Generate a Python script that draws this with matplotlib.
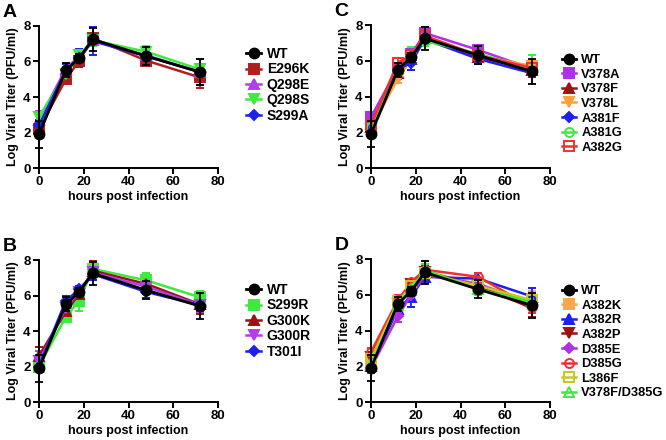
import matplotlib
matplotlib.use("Agg")
import matplotlib.pyplot as plt
from matplotlib.lines import Line2D

plt.rcParams['font.family'] = ['Liberation Sans', 'DejaVu Sans']
plt.rcParams['font.weight'] = 'bold'

hours = [0, 12, 18, 24, 48, 72]

# wild type, shared by all four panels
wt = [1.9, 5.5, 6.2, 7.25, 6.3, 5.4]
wt_err = [0.75, 0.4, 0.25, 0.65, 0.5, 0.72]

# panel A
a_names = ["E296K", "Q298E", "Q298S", "S299A"]
a_vals = [[2.2, 5.0, 6.05, 7.3, 6.05, 5.1],
          [2.7, 5.6, 6.3, 7.2, 6.35, 5.4],
          [2.9, 5.3, 6.35, 7.2, 6.55, 5.55],
          [2.4, 5.5, 6.2, 7.15, 6.3, 5.4]]
a_errs = [[0.2, 0.25, 0.3, 0.3, 0.2, 0.6],
          [0.5, 0.3, 0.3, 0.3, 0.3, 0.3],
          [0.2, 0.3, 0.25, 0.3, 0.35, 0.3],
          [0.3, 0.35, 0.5, 0.8, 0.3, 0.75]]

# panel B
b_names = ["S299R", "G300K", "G300R", "T301I"]
b_vals = [[2.0, 4.8, 5.7, 7.5, 6.85, 5.9],
          [2.6, 5.1, 6.1, 7.4, 6.65, 5.5],
          [2.3, 5.3, 6.2, 7.3, 6.5, 5.45],
          [2.0, 5.7, 6.35, 7.2, 6.2, 5.45]]
b_errs = [[0.3, 0.25, 0.55, 0.4, 0.4, 0.35],
          [0.5, 0.3, 0.3, 0.55, 0.3, 0.55],
          [0.6, 0.3, 0.3, 0.4, 0.3, 0.4],
          [0.3, 0.3, 0.2, 0.3, 0.35, 0.3]]

# panel C
c_names = ["V378A", "V378F", "V378L", "A381F", "A381G", "A382G"]
c_vals = [[2.85, 5.6, 6.35, 7.55, 6.6, 5.55],
          [2.3, 5.3, 6.1, 7.3, 6.2, 5.5],
          [2.2, 5.0, 6.1, 7.2, 6.3, 5.7],
          [2.2, 5.5, 5.9, 7.2, 6.1, 5.3],
          [2.3, 5.4, 6.4, 7.1, 6.4, 5.5],
          [2.4, 5.9, 6.3, 7.4, 6.3, 5.6]]
c_errs = [[0.3, 0.3, 0.3, 0.35, 0.3, 0.4],
          [0.3, 0.3, 0.3, 0.3, 0.3, 0.4],
          [0.3, 0.25, 0.3, 0.3, 0.3, 0.3],
          [0.3, 0.3, 0.4, 0.3, 0.3, 0.6],
          [0.3, 0.3, 0.35, 0.3, 0.3, 0.8],
          [0.3, 0.25, 0.3, 0.3, 0.3, 0.3]]

# panel D
d_names = ["A382K", "A382R", "A382P", "D385E", "D385G", "L386F", "V378F/D385G"]
d_vals = [[2.3, 5.65, 6.5, 7.3, 6.6, 5.6],
          [2.0, 5.2, 5.9, 7.0, 6.9, 5.9],
          [2.5, 5.5, 6.6, 7.3, 6.5, 5.25],
          [1.9, 4.8, 6.0, 7.1, 6.6, 5.5],
          [2.8, 5.7, 6.7, 7.4, 7.0, 5.3],
          [2.4, 5.6, 6.5, 7.2, 6.5, 5.7],
          [2.1, 5.4, 6.3, 7.4, 6.3, 5.6]]
d_errs = [[0.3, 0.3, 0.3, 0.6, 0.4, 0.6],
          [0.3, 0.3, 0.6, 0.3, 0.3, 0.5],
          [0.3, 0.3, 0.3, 0.3, 0.3, 0.5],
          [0.3, 0.3, 0.3, 0.3, 0.3, 0.3],
          [0.2, 0.3, 0.2, 0.3, 0.2, 0.3],
          [0.3, 0.3, 0.3, 0.5, 0.3, 0.4],
          [0.3, 0.3, 0.3, 0.3, 0.3, 0.3]]

# (color, marker, filled)
a_style = [("#B01E1E", "s", True), ("#B23EEA", "^", True),
           ("#3CEB3C", "v", True), ("#1E1EF0", "D", True)]
b_style = [("#3CEB3C", "s", True), ("#A01010", "^", True),
           ("#B23EEA", "v", True), ("#1E1EF0", "D", True)]
c_style = [("#B030E8", "s", True), ("#A01010", "^", True),
           ("#FFA040", "v", True), ("#1E1EF0", "D", True),
           ("#3CEB3C", "o", False), ("#F03030", "s", False)]
d_style = [("#FFA550", "s", True), ("#1E1EF0", "^", True),
           ("#A01010", "v", True), ("#B030E8", "D", True),
           ("#F03030", "o", False), ("#C8C820", "s", False),
           ("#3CEB3C", "^", False)]


def panel(rect, letter, names, vals, errs, style, leg_xy, leg_fs, leg_sp):
    ax = fig.add_axes(rect)
    handles = []
    for name, v, e, (col, mk, filled) in zip(names, vals, errs, style):
        ms = 5.5 if mk == "D" else 6.5
        fc = col if filled else "none"
        ax.errorbar(hours, v, yerr=e, color=col, marker=mk, ms=ms, mfc=fc,
                    mec=col, mew=1.4, lw=1.8, capsize=3, elinewidth=1.3,
                    capthick=1.3, clip_on=False, zorder=2)
        handles.append(Line2D([], [], color=col, marker=mk, ms=ms, mfc=fc,
                              mec=col, mew=1.4, lw=1.8))
    ax.errorbar(hours, wt, yerr=wt_err, color="black", marker="o", ms=7.5,
                lw=2.0, capsize=3, elinewidth=1.3, capthick=1.3,
                clip_on=False, zorder=3)
    handles.insert(0, Line2D([], [], color="black", marker="o", ms=7.5, lw=2.0))

    ax.set_xlim(0, 80)
    ax.set_ylim(0, 8)
    ax.set_xticks([0, 20, 40, 60, 80])
    ax.set_yticks([0, 2, 4, 6, 8])
    for s in ["top", "right"]:
        ax.spines[s].set_visible(False)
    for s in ["left", "bottom"]:
        ax.spines[s].set_linewidth(1.4)
    ax.tick_params(labelsize=9.5, width=1.4, length=4, pad=2)
    ax.set_xlabel("hours post infection", fontsize=9, fontweight="bold", labelpad=2)
    ax.set_ylabel("Log Viral Titer (PFU/ml)", fontsize=9, fontweight="bold", labelpad=3)

    fig.text(rect[0] - 0.055, rect[1] + rect[3] + 0.05, letter, fontsize=14,
             fontweight="bold", va="top", ha="left")
    fig.legend(handles, ["WT"] + names, loc="upper left", bbox_to_anchor=leg_xy,
               frameon=False, fontsize=leg_fs, handlelength=1.1, handletextpad=0.4,
               labelspacing=leg_sp, borderpad=0, borderaxespad=0)
    return ax


fig = plt.figure(figsize=(6.66, 4.40), dpi=100)

panel([39 / 666, 1 - 168 / 440, 179 / 666, 142 / 440], "A",
      a_names, a_vals, a_errs, a_style, (246 / 666, 1 - 47 / 440), 10, 0.1)
panel([39 / 666, 1 - 402 / 440, 179 / 666, 142 / 440], "B",
      b_names, b_vals, b_errs, b_style, (246 / 666, 1 - 283 / 440), 10, 0.1)
panel([371 / 666, 1 - 168 / 440, 179 / 666, 143 / 440], "C",
      c_names, c_vals, c_errs, c_style, (562 / 666, 1 - 54 / 440), 9.3, 0.2)
panel([371 / 666, 1 - 402 / 440, 179 / 666, 143 / 440], "D",
      d_names, d_vals, d_errs, d_style, (562 / 666, 1 - 285 / 440), 9.3, 0.2)

fig.savefig("out.png", dpi=100)
